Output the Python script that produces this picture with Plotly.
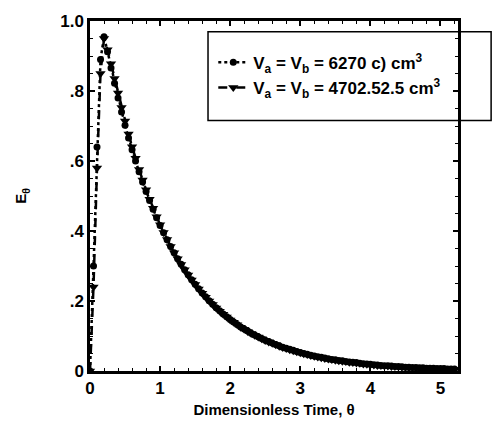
import plotly.graph_objects as go

# Dimensionless time (theta)
theta = [0.0, 0.05, 0.10, 0.15, 0.20, 0.25, 0.30, 0.35, 0.40, 0.45, 0.50, 0.55, 0.60, 0.65, 0.70,
         0.75, 0.80, 0.85, 0.90, 0.95, 1.00, 1.05, 1.10, 1.15, 1.20, 1.25, 1.30, 1.35, 1.40, 1.45,
         1.50, 1.55, 1.60, 1.65, 1.70, 1.75, 1.80, 1.85, 1.90, 1.95, 2.00, 2.05, 2.10, 2.15, 2.20,
         2.25, 2.30, 2.35, 2.40, 2.45, 2.50, 2.55, 2.60, 2.65, 2.70, 2.75, 2.80, 2.85, 2.90, 2.95,
         3.00, 3.05, 3.10, 3.15, 3.20, 3.25, 3.30, 3.35, 3.40, 3.45, 3.50, 3.55, 3.60, 3.65, 3.70,
         3.75, 3.80, 3.85, 3.90, 3.95, 4.00, 4.05, 4.10, 4.15, 4.20, 4.25, 4.30, 4.35, 4.40, 4.45,
         4.50, 4.55, 4.60, 4.65, 4.70, 4.75, 4.80, 4.85, 4.90, 4.95, 5.00, 5.05, 5.10, 5.15, 5.20]

# E_theta, V_a = V_b = 6270 cm^3 (circles)
e_6270 = [0.0, 0.30, 0.64, 0.89, 0.955, 0.912, 0.866, 0.822, 0.780, 0.740, 0.702, 0.666, 0.632, 0.600, 0.569,
          0.540, 0.513, 0.487, 0.462, 0.438, 0.416, 0.395, 0.375, 0.356, 0.338, 0.321, 0.305, 0.289, 0.275, 0.261,
          0.248, 0.235, 0.223, 0.212, 0.201, 0.191, 0.181, 0.172, 0.163, 0.155, 0.147, 0.140, 0.133, 0.126, 0.120,
          0.114, 0.108, 0.103, 0.098, 0.093, 0.088, 0.084, 0.080, 0.076, 0.072, 0.068, 0.065, 0.062, 0.059, 0.056,
          0.053, 0.050, 0.048, 0.045, 0.043, 0.041, 0.039, 0.037, 0.035, 0.033, 0.032, 0.030, 0.029, 0.027, 0.026,
          0.025, 0.024, 0.022, 0.021, 0.020, 0.019, 0.018, 0.017, 0.016, 0.015, 0.015, 0.014, 0.013, 0.013, 0.012,
          0.011, 0.011, 0.010, 0.010, 0.009, 0.009, 0.008, 0.008, 0.008, 0.007, 0.007, 0.007, 0.006, 0.006, 0.006]

# E_theta, V_a = V_b = 4702.5 cm^3 (triangles)
e_4702 = [0.0, 0.24, 0.58, 0.85, 0.950, 0.918, 0.878, 0.836, 0.794, 0.753, 0.714, 0.677, 0.641, 0.608, 0.576,
          0.546, 0.518, 0.491, 0.465, 0.441, 0.418, 0.396, 0.376, 0.356, 0.338, 0.321, 0.304, 0.289, 0.274, 0.260,
          0.247, 0.234, 0.222, 0.211, 0.200, 0.190, 0.180, 0.171, 0.162, 0.154, 0.146, 0.139, 0.132, 0.125, 0.119,
          0.113, 0.107, 0.102, 0.097, 0.092, 0.087, 0.083, 0.079, 0.075, 0.071, 0.067, 0.064, 0.061, 0.058, 0.055,
          0.052, 0.049, 0.047, 0.044, 0.042, 0.040, 0.038, 0.036, 0.034, 0.033, 0.031, 0.029, 0.028, 0.027, 0.025,
          0.024, 0.023, 0.022, 0.020, 0.019, 0.018, 0.017, 0.016, 0.016, 0.015, 0.014, 0.013, 0.013, 0.012, 0.011,
          0.011, 0.010, 0.010, 0.009, 0.009, 0.008, 0.008, 0.007, 0.007, 0.007, 0.006, 0.006, 0.006, 0.006, 0.005]

x_tickvals = [0, 1, 2, 3, 4, 5]
x_ticktext = ["0", "1", "2", "3", "4", "5"]
y_tickvals = [0, 0.2, 0.4, 0.6, 0.8, 1.0]
y_ticktext = ["0", ".2", ".4", ".6", ".8", "1.0"]

name_6270 = "V<sub>a</sub> = V<sub>b</sub> = 6270 c) cm<sup>3</sup>"
name_4702 = "V<sub>a</sub> = V<sub>b</sub> = 4702.52.5 cm<sup>3</sup>"

FONT = "Liberation Sans, Arial, sans-serif"

fig = go.Figure()
fig.add_trace(go.Scatter(
    x=theta, y=e_6270, name=name_6270, mode="lines+markers",
    line=dict(color="black", width=2.5, dash="dot"),
    marker=dict(symbol="circle", size=7, color="black"),
))
fig.add_trace(go.Scatter(
    x=theta, y=e_4702, name=name_4702, mode="lines+markers",
    line=dict(color="black", width=2.5, dash="dash"),
    marker=dict(symbol="triangle-down", size=9, color="black"),
))

axis_common = dict(
    showgrid=False, zeroline=False, showline=True, linecolor="black", linewidth=2.5,
    mirror="allticks", ticks="inside", tickcolor="black", ticklen=5, tickwidth=1.5,
    tickfont=dict(family=FONT, size=17, color="black", weight="bold"),
)

fig.update_layout(
    width=502, height=445,
    margin=dict(l=90, r=44, t=16, b=74),
    paper_bgcolor="white", plot_bgcolor="white",
    showlegend=True,
    legend=dict(
        x=0.335, y=0.845, xanchor="left", yanchor="middle",
        bgcolor="rgba(0,0,0,0)", borderwidth=0,
        font=dict(family=FONT, size=17, color="black", weight="bold"),
        itemwidth=30, tracegroupgap=0,
    ),
    xaxis=dict(
        range=[0, 5.25], tickvals=x_tickvals, ticktext=x_ticktext,
        minor=dict(ticks="inside", dtick=0.2, ticklen=3, tickcolor="black", tickwidth=1),
        title=dict(text="Dimensionless Time, θ", standoff=8,
                   font=dict(family=FONT, size=15, color="black", weight="bold")),
        **axis_common,
    ),
    yaxis=dict(
        range=[0, 1.0], tickvals=y_tickvals, ticktext=y_ticktext,
        minor=dict(ticks="inside", dtick=0.05, ticklen=3, tickcolor="black", tickwidth=1),
        title=dict(text="E<sub>θ</sub>", standoff=30,
                   font=dict(family=FONT, size=15, color="black", weight="bold")),
        **axis_common,
    ),
    shapes=[dict(
        type="rect", xref="paper", yref="paper",
        x0=0.3207, x1=1.09, y0=0.7155, y1=0.969,
        line=dict(color="black", width=1.5), fillcolor="white", layer="below",
    )],
)

fig.write_html("out.html")
